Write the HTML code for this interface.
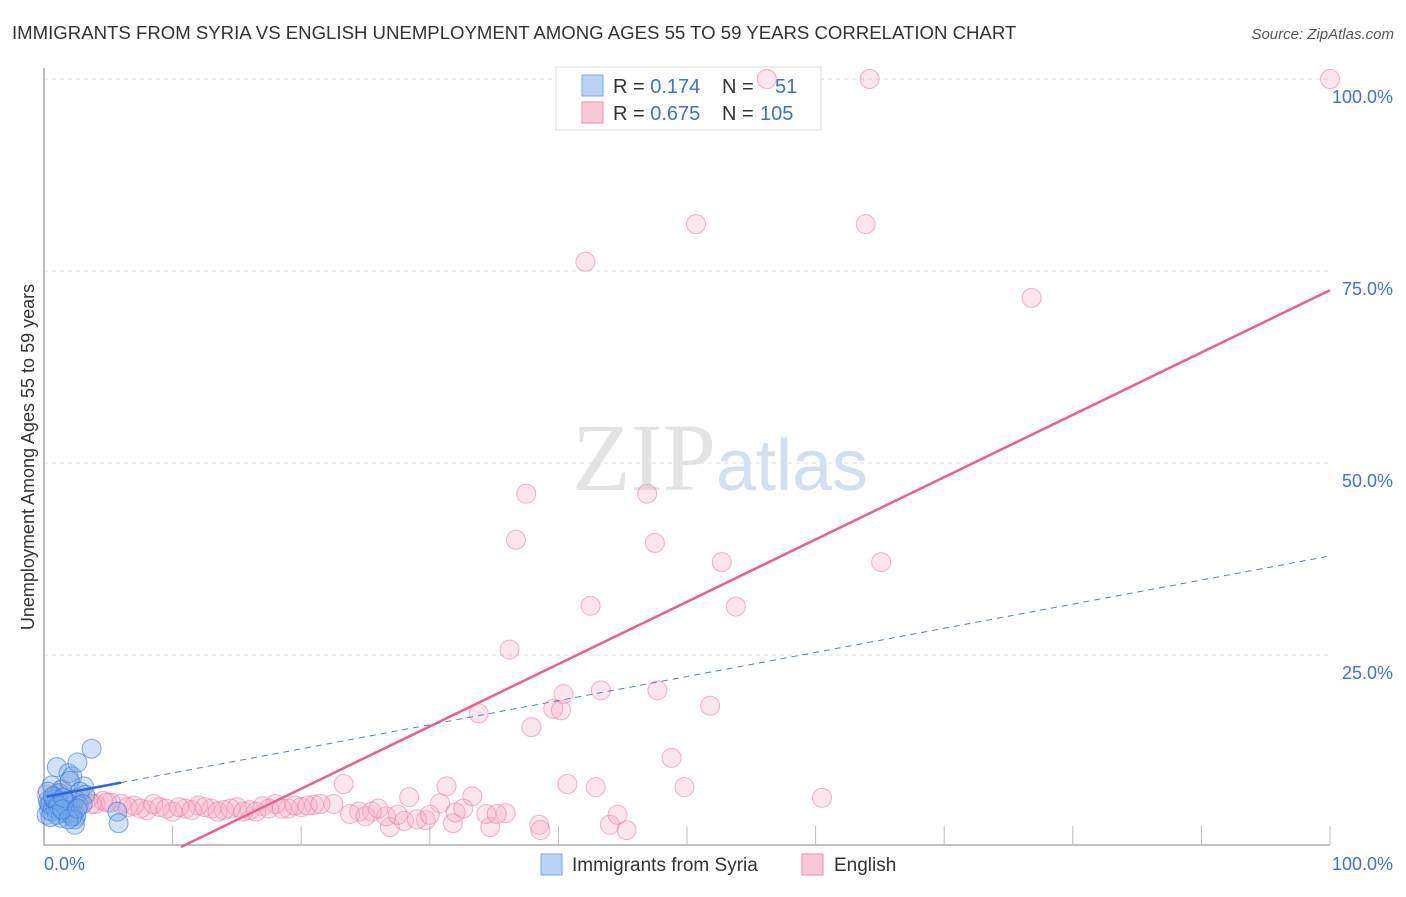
<!DOCTYPE html>
<html><head><meta charset="utf-8"><style>
body{margin:0;background:#fff;font-family:"Liberation Sans",sans-serif}
</style></head><body>
<svg id="chart" width="1406" height="892" xmlns="http://www.w3.org/2000/svg" style="font-family:'Liberation Sans',sans-serif">
<text x="12" y="39" font-size="18.6" fill="#333">IMMIGRANTS FROM SYRIA VS ENGLISH UNEMPLOYMENT AMONG AGES 55 TO 59 YEARS CORRELATION CHART</text>
<text x="1394" y="39" font-size="15" fill="#555" text-anchor="end" font-style="italic">Source: ZipAtlas.com</text>
<text x="720" y="490" font-size="96" text-anchor="middle" font-family="Liberation Serif" fill="#ddd" opacity="0.8">ZIP<tspan fill="#c6d8ee" font-family="Liberation Sans" font-size="72">atlas</tspan></text>
<text transform="translate(34,457) rotate(-90)" font-size="18" fill="#333" text-anchor="middle">Unemployment Among Ages 55 to 59 years</text>
<g id="grid"></g>
<g>
<rect x="556" y="67" width="265" height="63" fill="#fff" stroke="#ddd"/>
<rect x="582" y="75" width="21" height="21" fill="#b8d3f5" stroke="#7aaae6"/>
<rect x="582" y="102" width="21" height="21" fill="#fbc8d7" stroke="#eb8fab"/>
<text x="613" y="93" font-size="20" fill="#333">R = <tspan fill="#3a72d8"> 0.174</tspan><tspan x="722">N = </tspan><tspan fill="#3a72d8" x="775">51</tspan></text>
<text x="613" y="120" font-size="20" fill="#333">R = <tspan fill="#3a72d8">0.675</tspan><tspan x="722">N = </tspan><tspan fill="#3a72d8" x="760">105</tspan></text>
</g>
<g id="pts"></g><g id="lines"></g>
<g>
<rect x="541" y="854" width="21" height="21" fill="#b8d3f5" stroke="#7aaae6"/>
<text x="572" y="871" font-size="19" fill="#333">Immigrants from Syria</text>
<rect x="802" y="854" width="21" height="21" fill="#fbc8d7" stroke="#eb8fab"/>
<text x="834" y="871" font-size="19" fill="#333">English</text>
</g>
</svg>
<script>
const yTicks=[25,50,75,100];
const yTickLabels=["25.0%","50.0%","75.0%","100.0%"];
const syriaX=[0.3,0.6,1.0,1.4,1.9,2.2,2.6,3.1,3.7,0.5,0.8,1.2,1.6,2.0,2.4,2.8,3.2,0.4,0.7,1.1,1.5,1.8,2.3,2.7,0.2,0.6,0.9,1.3,1.7,2.1,2.5,0.4,0.8,1.2,1.6,2.0,2.4,0.3,0.7,1.1,1.5,5.7,5.8,2.4,2.2,1.0,1.9,3.0,0.5,1.4,2.6];
const syriaY=[6.0,8.0,10.4,7.5,9.6,9.2,11.0,7.9,12.8,5.5,6.5,7.0,5.0,8.6,6.2,7.2,6.8,4.8,5.2,6.0,4.6,5.8,4.4,5.4,4.2,4.6,5.0,3.8,4.4,4.8,4.0,5.6,6.2,5.2,6.0,4.4,3.6,7.2,6.6,5.4,6.4,4.6,3.1,2.9,4.0,4.2,3.6,5.6,3.9,4.9,5.0];
const engX=[56.2,64.2,100,50.7,63.9,42.1,76.8,37.5,46.9,36.7,47.5,52.7,65.1,42.5,53.8,36.2,43.3,47.7,40.4,33.8,39.6,40.2,51.8,37.9,48.8,23.3,31.3,40.7,42.9,49.8,60.5,28.4,33.3,30.8,38.5,38.6,44.0,45.3,44.6,34.7,31.8,29.7,26.9,34.4,35.9,35.2,32.6,26.6,28.0,24.5,22.5,21.0,20.0,19.0,18.0,17.0,16.0,15.0,14.0,13.0,12.0,11.0,10.0,9.0,8.0,7.0,6.0,5.2,4.6,4.0,3.4,2.8,2.2,1.6,1.0,0.5,0.2,1.3,2.5,3.7,4.9,6.5,7.5,8.5,9.5,10.5,11.5,12.5,13.5,14.5,15.5,16.5,17.5,18.5,19.5,20.5,21.5,25.5,27.5,29.0,30.0,32.0,23.8,25.0,26.0];
const engY=[100,100,100,81.1,81.1,76.2,71.5,46,46,40,39.6,37.1,37.1,31.4,31.3,25.7,20.4,20.4,19.9,17.4,18,17.8,18.4,15.6,11.6,8.2,7.9,8.2,7.8,7.8,6.4,6.5,6.6,5.7,2.9,2.2,2.9,2.2,4.2,2.6,3.1,3.5,2.6,4.3,4.4,4.3,5.0,4.0,3.4,4.6,5.6,5.5,5.2,5.0,5.6,5.3,4.8,5.2,4.8,5.0,5.4,5.0,4.6,5.2,4.8,5.4,5.6,5.8,6.0,5.6,6.2,6.4,6.0,6.6,7.0,5.8,6.8,7.4,6.2,5.6,5.8,5.2,5.0,5.6,5.0,5.2,4.8,5.2,4.6,5.0,4.6,4.6,5.0,5.0,5.4,5.4,5.6,4.6,4.2,3.6,4.2,4.5,4.3,4.0,5.0];
const syriaTrend=[6.5,37.9];
const engTrend=[-8.64,72.5];
const X=v=>44+v*12.86, Y=v=>847-v*7.68;
const NS="http://www.w3.org/2000/svg";
function mk(t,a,p){const e=document.createElementNS(NS,t);for(const k in a)e.setAttribute(k,a[k]);p.appendChild(e);return e;}
const grid=document.getElementById('grid');
yTicks.forEach((t,i)=>{
 const l=mk('line',{x1:44,x2:1330,y1:Y(t),y2:Y(t),stroke:'#ddd','stroke-dasharray':'4,4'},grid);
 
 
 const tx=mk('text',{x:1393,y:Y(t)+24,'font-size':18,fill:'#3a72d8','text-anchor':'end'},grid);
 tx.textContent=yTickLabels[i];
 
 
});
const ax=mk('path',{d:'M44,68 V845 H1330',fill:'none',stroke:'#aaa','stroke-width':1.5},grid);


for(let i=1;i<=10;i++){const tk=mk('line',{x1:X(i*10),x2:X(i*10),y1:826,y2:845,stroke:'#bbb'},grid);
 
 }
const xl=mk('text',{x:44,y:870,'font-size':18,fill:'#3a72d8'},grid);xl.textContent='0.0%';


const xr=mk('text',{x:1393,y:870,'font-size':18,fill:'#3a72d8','text-anchor':'end'},grid);xr.textContent='100.0%';


const pts=document.getElementById('pts');
engX.forEach((x,i)=>{const c=mk('circle',{cx:X(x),cy:Y(engY[i]),r:9.5,fill:'rgba(247,170,195,0.3)',stroke:'rgba(230,120,155,0.55)'},pts);
 
 });
syriaX.forEach((x,i)=>{const c=mk('circle',{cx:X(x),cy:Y(syriaY[i]),r:9.5,fill:'rgba(120,170,235,0.35)',stroke:'rgba(50,120,215,0.6)'},pts);
 
 });
const lines=document.getElementById('lines');
const x0=-engTrend[0]/(engTrend[1]-engTrend[0])*100;
const el=mk('line',{x1:X(x0),y1:Y(0),x2:X(100),y2:Y(engTrend[1]),stroke:'#e8608e','stroke-width':2.5},lines);


const sy=v=>syriaTrend[0]+(syriaTrend[1]-syriaTrend[0])*v/100;
const sd=mk('line',{x1:X(6),y1:Y(sy(6)),x2:X(100),y2:Y(sy(100)),stroke:'#4a80d8','stroke-width':1,'stroke-dasharray':'6,5'},lines);


const ss=mk('line',{x1:X(0.2),y1:Y(sy(0.2)),x2:X(6),y2:Y(sy(6)),stroke:'#2a6ad8','stroke-width':2.5},lines);


</script>
</body></html>
